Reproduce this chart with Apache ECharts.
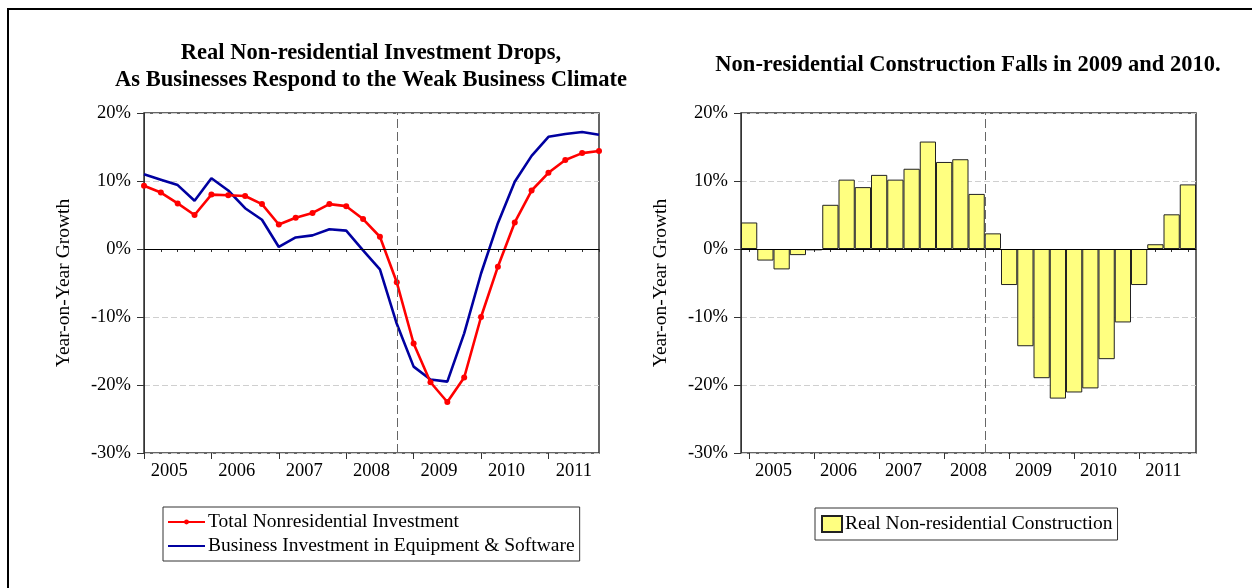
<!DOCTYPE html>
<html>
<head>
<meta charset="utf-8">
<script src="https://cdn.jsdelivr.net/npm/echarts@6/dist/echarts.min.js"></script>
<style>
html,body{margin:0;padding:0;background:#fff;overflow:hidden;}
#frame{position:absolute;left:7px;top:8px;width:2000px;height:2000px;border-left:2px solid #000;border-top:2px solid #000;pointer-events:none;}
#chart{position:absolute;left:0;top:0;width:1252px;height:588px;}
</style>
</head>
<body>
<div id="chart"></div>
<div id="frame"></div>
<script>
const quarters = ['2005Q1','2005Q2','2005Q3','2005Q4','2006Q1','2006Q2','2006Q3','2006Q4',
  '2007Q1','2007Q2','2007Q3','2007Q4','2008Q1','2008Q2','2008Q3','2008Q4',
  '2009Q1','2009Q2','2009Q3','2009Q4','2010Q1','2010Q2','2010Q3','2010Q4',
  '2011Q1','2011Q2','2011Q3','2011Q4'];
const totalNonresidential = [9.3, 8.3, 6.7, 5.0, 8.0, 7.9, 7.8, 6.6, 3.6, 4.6, 5.3, 6.6, 6.3, 4.4, 1.8, -4.9,
  -13.9, -19.6, -22.5, -18.9, -10.0, -2.6, 3.9, 8.6, 11.2, 13.1, 14.1, 14.4];
const equipmentSoftware = [11.0, 10.2, 9.4, 7.1, 10.4, 8.6, 6.0, 4.3, 0.3, 1.7, 2.0, 2.9, 2.7, -0.2, -3.0, -11.0,
  -17.3, -19.2, -19.5, -12.4, -3.6, 3.8, 9.9, 13.7, 16.5, 16.9, 17.2, 16.8];
const construction = [3.9, -1.7, -3.0, -0.9, -0.2, 6.5, 10.2, 9.1, 10.9, 10.2, 11.8, 15.8, 12.8, 13.2, 8.1, 2.3,
  -5.3, -14.3, -19.0, -22.0, -21.1, -20.5, -16.2, -10.8, -5.3, 0.7, 5.1, 9.5];
const recessionMarkIndex = 15;
const yMin = -30, yMax = 20, yStep = 10;

const FONT = "'Liberation Serif', 'Times New Roman', serif";
const chart = echarts.init(document.getElementById('chart'), null, {renderer: 'canvas'});

function yAxisCfg(gi) {
  return {
    type: 'value', gridIndex: gi, min: yMin, max: yMax, interval: yStep,
    name: 'Year-on-Year Growth', nameLocation: 'middle', nameGap: 70, nameRotate: 90,
    nameTextStyle: {fontFamily: FONT, fontSize: 19.5, color: '#000'},
    axisLine: {show: true, lineStyle: {color: '#333', width: 1}},
    axisTick: {show: true, length: 7, lineStyle: {color: '#333'}},
    axisLabel: {fontFamily: FONT, fontSize: 18.5, color: '#000', margin: 13, formatter: '{value}%'},
    splitLine: {show: true, lineStyle: {color: '#cfcfcf', type: [6, 3], width: 1}}
  };
}
function xMinor(gi, gap) {
  return {
    type: 'category', gridIndex: gi, data: quarters, boundaryGap: gap, position: 'bottom',
    axisLine: {show: true, lineStyle: {color: '#333'}},
    axisTick: {show: true, interval: 0, length: 3, alignWithLabel: true, lineStyle: {color: '#333'}},
    axisLabel: {show: false}, splitLine: {show: false}
  };
}
function xMajor(gi, gap, pad) {
  return {
    type: 'category', gridIndex: gi, data: quarters, boundaryGap: gap, position: 'bottom',
    axisLine: {show: false},
    axisTick: {show: true, interval: 3, length: 6, alignWithLabel: true, lineStyle: {color: '#333'}},
    axisLabel: {show: true, interval: (i) => i % 4 === 1, formatter: (v) => v.slice(0, 4),
      fontFamily: FONT, fontSize: 18.5, color: '#000', margin: 9, padding: [0, 0, 0, pad]},
    splitLine: {show: false}
  };
}
const zeroLine = {silent: true, symbol: 'none', label: {show: false},
  lineStyle: {color: '#000', type: 'solid', width: 1}, data: [{yAxis: 0}]};
const dashLineStyle = {color: '#666', type: [9, 4], width: 1};

chart.setOption({
  animation: false,
  backgroundColor: '#fff',
  title: [
    {text: 'Real Non-residential Investment Drops,\nAs Businesses Respond to the Weak Business Climate',
      left: 371, top: 40, textAlign: 'center', padding: 0,
      textStyle: {fontFamily: FONT, fontWeight: 'bold', fontSize: 22.5, lineHeight: 27, color: '#000'}},
    {text: 'Non-residential Construction Falls in 2009 and 2010.',
      left: 968, top: 52, textAlign: 'center', padding: 0,
      textStyle: {fontFamily: FONT, fontWeight: 'bold', fontSize: 22.5, lineHeight: 27, color: '#000'}}
  ],
  grid: [
    {left: 144, top: 113, width: 455, height: 340, show: true, borderColor: '#333', borderWidth: 1.5, backgroundColor: 'transparent'},
    {left: 741, top: 113, width: 455, height: 340, show: true, borderColor: '#333', borderWidth: 1.5, backgroundColor: 'transparent'}
  ],
  legend: [
    {left: 163, top: 507, orient: 'vertical', itemGap: 4, itemWidth: 37, itemHeight: 6,
      padding: [5, 5, 5, 4], borderColor: '#333', borderWidth: 1, borderRadius: 0,
      data: [
        {name: 'Total Nonresidential Investment'},
        {name: 'Business Investment in Equipment & Software', itemStyle: {opacity: 0}}
      ],
      textStyle: {fontFamily: FONT, fontSize: 19.5, lineHeight: 20, color: '#000', padding: [0, 0, 0, -2]}},
    {left: 815, top: 508, orient: 'vertical', itemWidth: 20, itemHeight: 16, icon: 'rect',
      padding: [6, 5, 6, 6], borderColor: '#333', borderWidth: 1, borderRadius: 0,
      data: ['Real Non-residential Construction'],
      textStyle: {fontFamily: FONT, fontSize: 19.5, color: '#000', padding: [0, 0, 0, -2]}}
  ],
  xAxis: [
    xMinor(0, false),
    xMajor(0, false, 17),
    xMinor(1, true),
    xMajor(1, true, 16),
    {type: 'value', gridIndex: 1, min: 0, max: quarters.length, show: false}
  ],
  yAxis: [yAxisCfg(0), yAxisCfg(1)],
  series: [
    {name: 'Total Nonresidential Investment', type: 'line', xAxisIndex: 0, yAxisIndex: 0,
      data: totalNonresidential, symbol: 'circle', symbolSize: 6, showSymbol: true,
      lineStyle: {color: '#ff0000', width: 2.6}, itemStyle: {color: '#ff0000'}, z: 4,
      markLine: zeroLine},
    {name: 'Business Investment in Equipment & Software', type: 'line', xAxisIndex: 0, yAxisIndex: 0,
      data: equipmentSoftware, symbol: 'none', showSymbol: false,
      lineStyle: {color: '#0000a0', width: 2.6}, itemStyle: {color: '#0000a0'}, z: 3,
      markLine: {silent: true, symbol: 'none', label: {show: false}, lineStyle: dashLineStyle,
        data: [{xAxis: recessionMarkIndex}]}},
    {name: 'Real Non-residential Construction', type: 'bar', xAxisIndex: 2, yAxisIndex: 1,
      data: construction, barCategoryGap: '0%', barGap: '0%',
      itemStyle: {color: '#ffff80', borderColor: '#222', borderWidth: 1}, z: 3,
      markLine: zeroLine},
    {name: 'marker', type: 'line', xAxisIndex: 4, yAxisIndex: 1, data: [], symbol: 'none',
      markLine: {silent: true, symbol: 'none', label: {show: false}, lineStyle: dashLineStyle,
        data: [{xAxis: recessionMarkIndex}]}}
  ]
});
</script>
</body>
</html>
